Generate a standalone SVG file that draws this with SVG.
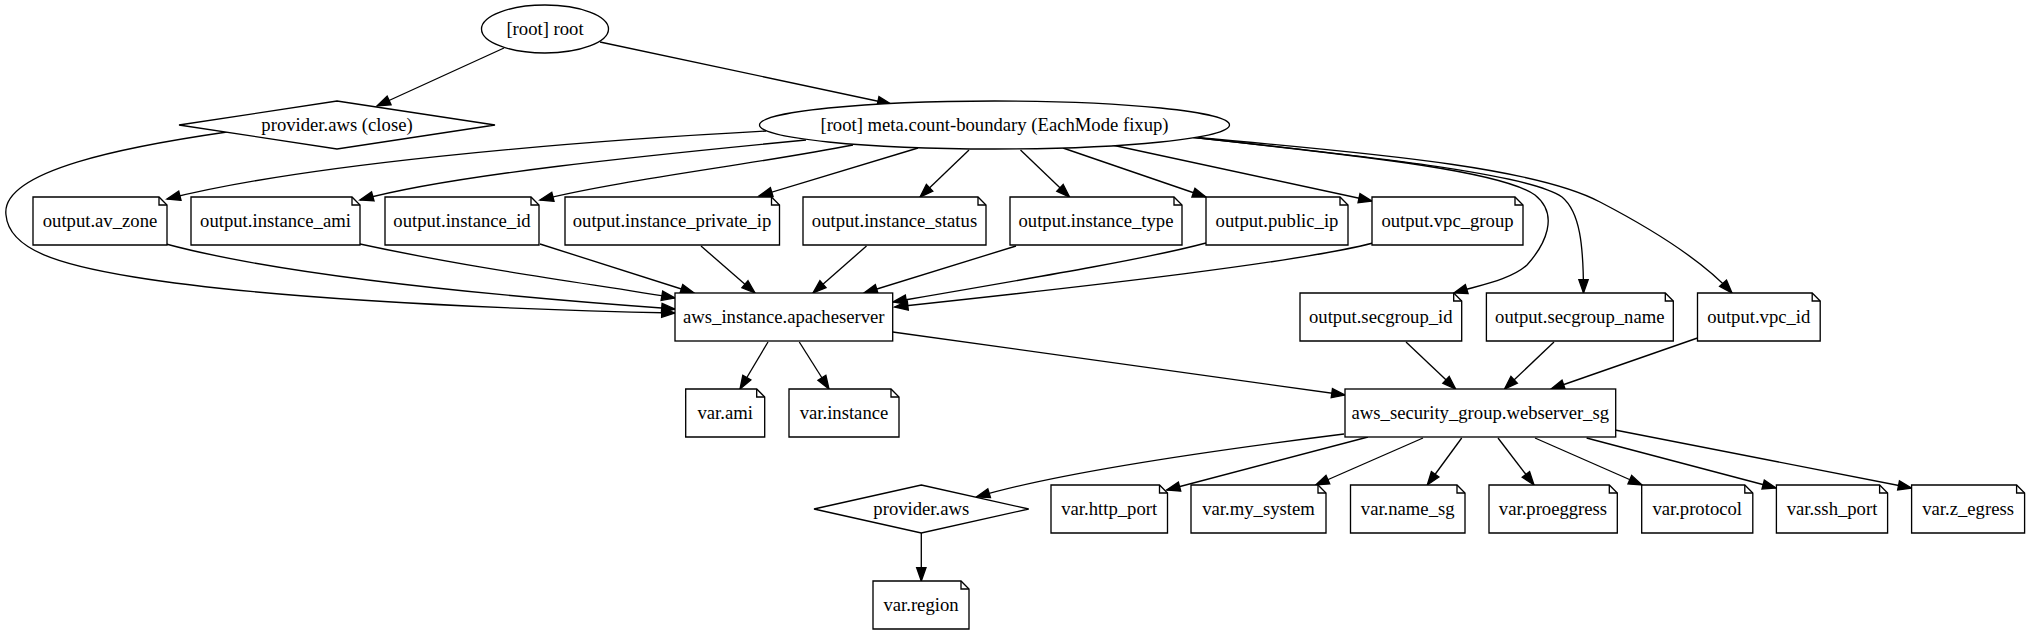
<svg xmlns="http://www.w3.org/2000/svg" width="2029" height="635" viewBox="0 0 2029 635">
<style>
.n{fill:#fff;stroke:#000;stroke-width:1.33}
.f{fill:none;stroke:#000;stroke-width:1.33}
.e{fill:none;stroke:#000;stroke-width:1.33;marker-end:url(#ah)}
text{font-family:"Liberation Serif","Times New Roman",serif;font-size:18.67px;text-anchor:middle;fill:#000}
</style>
<defs>
<marker id="ah" markerUnits="userSpaceOnUse" markerWidth="16" markerHeight="12" refX="13.3" refY="4.67" orient="auto" overflow="visible">
<path d="M0,0 L13.3,4.67 L0,9.33 Z" fill="#000" stroke="#000" stroke-width="1.33"/>
</marker>
</defs>
<rect x="0" y="0" width="2029" height="635" fill="#fff"/>
<g id="connectors">
<path class="e" d="M504,48 L377,106"/>
<path class="e" d="M600,42 L891,104"/>
<path class="e" d="M227,132 C130,146 0,170 6,215 C9,250 60,265 134,277 C250,296 450,308 675,313"/>
<path class="e" d="M766,131 C560,142 300,165 167,199"/>
<path class="e" d="M806,140 C650,155 450,175 360,200"/>
<path class="e" d="M853,145 C750,165 620,180 540,200"/>
<path class="e" d="M918,148 L759,196"/>
<path class="e" d="M969,150 L920,197"/>
<path class="e" d="M1020.5,150 L1069.6,197"/>
<path class="e" d="M1063,148 L1206,197"/>
<path class="e" d="M1112,145 L1372,201"/>
<path class="e" d="M1190,137 C1350,155 1500,170 1535,195 C1560,215 1545,245 1527,265 C1510,280 1480,285 1454,293"/>
<path class="e" d="M1190,137 C1400,160 1530,175 1562,197 C1580,212 1583.5,245 1583.5,293"/>
<path class="e" d="M1190,137 C1400,155 1540,170 1600,202 C1650,228 1700,258 1732,293"/>
<path class="e" d="M166,244 C300,280 550,300 675,309"/>
<path class="e" d="M360,244 C480,270 600,285 675,298"/>
<path class="e" d="M540,244 L694,293"/>
<path class="e" d="M701,246 L755,293"/>
<path class="e" d="M866.5,246 L813,293"/>
<path class="e" d="M1016,246 L864,293"/>
<path class="e" d="M1206,243 C1150,258 1050,275 893,302"/>
<path class="e" d="M1373,243 C1300,262 1100,285 894.6,307"/>
<path class="e" d="M768,342 L740,389"/>
<path class="e" d="M799.3,342 L829,389"/>
<path class="e" d="M892.7,332 L1345,395"/>
<path class="e" d="M1406,342 L1455.7,389"/>
<path class="e" d="M1554,342 L1504.5,389"/>
<path class="e" d="M1697.5,338 L1551,389"/>
<path class="e" d="M1344,434 C1200,452 1050,475 976.4,497"/>
<path class="e" d="M1368,437 L1166.7,490"/>
<path class="e" d="M1423,438 L1315.7,485"/>
<path class="e" d="M1461.7,438 L1427.3,485"/>
<path class="e" d="M1498,438 L1534,485"/>
<path class="e" d="M1535,438 L1642,485"/>
<path class="e" d="M1586.6,438 L1776,488"/>
<path class="e" d="M1615,430 L1911.6,488"/>
<path class="e" d="M921.3,533 L921.3,581"/>
</g>
<g id="root"><ellipse class="n" cx="545" cy="29" rx="63.5" ry="24"/><text x="545" y="34.6">[root] root</text></g>
<g id="provider_aws_close"><polygon class="n" points="337,101 495,125 337,149 179,125"/><text x="337" y="130.6">provider.aws (close)</text></g>
<g id="meta_count_boundary"><ellipse class="n" cx="994.5" cy="125" rx="235" ry="24"/><text x="994.5" y="130.6">[root] meta.count-boundary (EachMode fixup)</text></g>
<g id="output_av_zone"><path class="n" d="M33,197 H159 L167,205 V245 H33 Z"/><path class="f" d="M159,197 V205 H167"/><text x="100" y="226.6">output.av_zone</text></g>
<g id="output_instance_ami"><path class="n" d="M191,197 H352 L360,205 V245 H191 Z"/><path class="f" d="M352,197 V205 H360"/><text x="275.5" y="226.6">output.instance_ami</text></g>
<g id="output_instance_id"><path class="n" d="M385,197 H531 L539,205 V245 H385 Z"/><path class="f" d="M531,197 V205 H539"/><text x="462" y="226.6">output.instance_id</text></g>
<g id="output_instance_private_ip"><path class="n" d="M565,197 H771.5 L779.5,205 V245 H565 Z"/><path class="f" d="M771.5,197 V205 H779.5"/><text x="672" y="226.6">output.instance_private_ip</text></g>
<g id="output_instance_status"><path class="n" d="M803,197 H978 L986,205 V245 H803 Z"/><path class="f" d="M978,197 V205 H986"/><text x="894.5" y="226.6">output.instance_status</text></g>
<g id="output_instance_type"><path class="n" d="M1010,197 H1174 L1182,205 V245 H1010 Z"/><path class="f" d="M1174,197 V205 H1182"/><text x="1096" y="226.6">output.instance_type</text></g>
<g id="output_public_ip"><path class="n" d="M1206,197 H1340 L1348,205 V245 H1206 Z"/><path class="f" d="M1340,197 V205 H1348"/><text x="1277" y="226.6">output.public_ip</text></g>
<g id="output_vpc_group"><path class="n" d="M1372,197 H1515 L1523,205 V245 H1372 Z"/><path class="f" d="M1515,197 V205 H1523"/><text x="1447.5" y="226.6">output.vpc_group</text></g>
<g id="aws_instance_apacheserver"><rect class="n" x="675" y="293" width="217.7" height="48"/><text x="783.8" y="322.6">aws_instance.apacheserver</text></g>
<g id="output_secgroup_id"><path class="n" d="M1300,293 H1453.7 L1461.7,301 V341 H1300 Z"/><path class="f" d="M1453.7,293 V301 H1461.7"/><text x="1380.8" y="322.6">output.secgroup_id</text></g>
<g id="output_secgroup_name"><path class="n" d="M1486.4,293 H1665.3 L1673.3,301 V341 H1486.4 Z"/><path class="f" d="M1665.3,293 V301 H1673.3"/><text x="1579.8" y="322.6">output.secgroup_name</text></g>
<g id="output_vpc_id"><path class="n" d="M1697.5,293 H1812.2 L1820.2,301 V341 H1697.5 Z"/><path class="f" d="M1812.2,293 V301 H1820.2"/><text x="1758.8" y="322.6">output.vpc_id</text></g>
<g id="var_ami"><path class="n" d="M685.7,389 H756.7 L764.7,397 V437 H685.7 Z"/><path class="f" d="M756.7,389 V397 H764.7"/><text x="725.2" y="418.6">var.ami</text></g>
<g id="var_instance"><path class="n" d="M789,389 H891 L899,397 V437 H789 Z"/><path class="f" d="M891,389 V397 H899"/><text x="844" y="418.6">var.instance</text></g>
<g id="aws_security_group_webserver_sg"><rect class="n" x="1345" y="389" width="270.7" height="48"/><text x="1480.3" y="418.6">aws_security_group.webserver_sg</text></g>
<g id="provider_aws"><polygon class="n" points="921.3,485 1028.7,509 921.3,533 814,509"/><text x="921.3" y="514.6">provider.aws</text></g>
<g id="var_http_port"><path class="n" d="M1051,485 H1159.5 L1167.5,493 V533 H1051 Z"/><path class="f" d="M1159.5,485 V493 H1167.5"/><text x="1109.2" y="514.6">var.http_port</text></g>
<g id="var_my_system"><path class="n" d="M1191,485 H1318 L1326,493 V533 H1191 Z"/><path class="f" d="M1318,485 V493 H1326"/><text x="1258.5" y="514.6">var.my_system</text></g>
<g id="var_name_sg"><path class="n" d="M1350.5,485 H1457 L1465,493 V533 H1350.5 Z"/><path class="f" d="M1457,485 V493 H1465"/><text x="1407.7" y="514.6">var.name_sg</text></g>
<g id="var_proeggress"><path class="n" d="M1489,485 H1609.3 L1617.3,493 V533 H1489 Z"/><path class="f" d="M1609.3,485 V493 H1617.3"/><text x="1553" y="514.6">var.proeggress</text></g>
<g id="var_protocol"><path class="n" d="M1641.7,485 H1744.8 L1752.8,493 V533 H1641.7 Z"/><path class="f" d="M1744.8,485 V493 H1752.8"/><text x="1697.2" y="514.6">var.protocol</text></g>
<g id="var_ssh_port"><path class="n" d="M1776.4,485 H1879.6 L1887.6,493 V533 H1776.4 Z"/><path class="f" d="M1879.6,485 V493 H1887.6"/><text x="1832" y="514.6">var.ssh_port</text></g>
<g id="var_z_egress"><path class="n" d="M1911.6,485 H2016.6 L2024.6,493 V533 H1911.6 Z"/><path class="f" d="M2016.6,485 V493 H2024.6"/><text x="1968.1" y="514.6">var.z_egress</text></g>
<g id="var_region"><path class="n" d="M873,581 H961 L969,589 V629 H873 Z"/><path class="f" d="M961,581 V589 H969"/><text x="921" y="610.6">var.region</text></g>
</svg>
